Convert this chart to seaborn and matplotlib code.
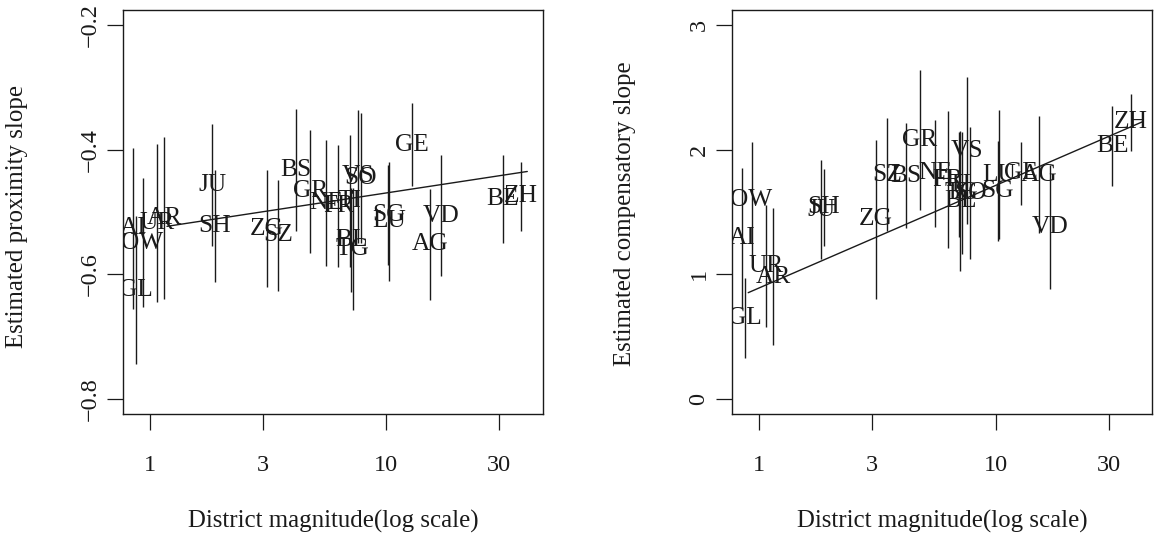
import matplotlib
matplotlib.use("Agg")
import matplotlib.pyplot as plt
import seaborn as sns
import pandas as pd
import numpy as np

# ---- data ----
cantons = ["AI", "GL", "OW", "UR", "AR", "JU", "SH", "ZG", "SZ", "BS", "GR", "NE", "FR",
           "TI", "BL", "TG", "VS", "SO", "SG", "LU", "GE", "AG", "VD", "BE", "ZH"]
magnitude = [0.85, 0.87, 0.93, 1.07, 1.145, 1.83, 1.88, 3.12, 3.48, 4.16, 4.77, 5.55, 6.27,
             7.0, 7.09, 7.2, 7.6, 7.8, 10.2, 10.3, 12.8, 15.3, 17.0, 31.1, 37.2]
prox_est = [-0.526, -0.625, -0.549, -0.518, -0.510, -0.457, -0.522, -0.527, -0.537, -0.433,
            -0.467, -0.485, -0.491, -0.483, -0.545, -0.559, -0.443, -0.445, -0.505, -0.515,
            -0.392, -0.552, -0.506, -0.479, -0.475]
prox_hw = [0.129, 0.118, 0.104, 0.127, 0.130, 0.098, 0.090, 0.094, 0.089, 0.098,
           0.098, 0.101, 0.098, 0.106, 0.084, 0.098, 0.106, 0.104, 0.080, 0.095,
           0.067, 0.089, 0.097, 0.071, 0.056]
comp_est = [1.29, 0.65, 1.60, 1.07, 0.98, 1.52, 1.537, 1.44, 1.80, 1.79, 2.08, 1.81, 1.76,
            1.72, 1.59, 1.65, 1.99, 1.65, 1.67, 1.80, 1.81, 1.80, 1.38, 2.03, 2.22]
comp_hw = [0.565, 0.32, 0.46, 0.49, 0.55, 0.40, 0.31, 0.64, 0.45, 0.42, 0.56, 0.43, 0.55,
           0.42, 0.56, 0.49, 0.59, 0.53, 0.40, 0.52, 0.25, 0.47, 0.50, 0.32, 0.23]
prox_fit_x = [1.18, 39.5]
prox_fit_y = [-0.523, -0.435]
comp_fit_x = [0.90, 42.0]
comp_fit_y = [0.853, 2.226]
xticks = [1, 3, 10, 30]
xtick_labels = ["1", "3", "10", "30"]
prox_yticks = [-0.8, -0.6, -0.4, -0.2]
prox_ytick_labels = ["\u22120.8", "\u22120.6", "\u22120.4", "\u22120.2"]
comp_yticks = [0, 1, 2, 3]
comp_ytick_labels = ["0", "1", "2", "3"]
xlabel = "District magnitude(log scale)"
prox_ylabel = "Estimated proximity slope"
comp_ylabel = "Estimated compensatory slope"

df = pd.DataFrame({"canton": cantons, "mag": magnitude,
                   "prox": prox_est, "prox_hw": prox_hw,
                   "comp": comp_est, "comp_hw": comp_hw})

sns.set_theme(style="white")
plt.rcParams["font.family"] = ["Liberation Serif", "DejaVu Serif"]

W, H = 1155, 535
fig = plt.figure(figsize=(W / 100, H / 100), dpi=100)

def px_axes(x0, x1, y0, y1):
    return fig.add_axes([x0 / W, 1 - y1 / H, (x1 - x0) / W, (y1 - y0) / H])

axL = px_axes(123.3, 542.7, 10, 414)
axR = px_axes(732.3, 1152.3, 10, 414)

LABEL_FS = 18.3
TITLE_FS = 17.9
TICK_FS = 17.5
INK = "#1a1a1a"

def draw(ax, col, hwcol, fx, fy, yticks, ylabs, ylim):
    ax.set_xscale("log")
    ax.vlines(df["mag"], df[col] - df[hwcol], df[col] + df[hwcol],
              color=INK, linewidth=1.0)
    sns.lineplot(x=fx, y=fy, ax=ax, color=INK, linewidth=1.0)
    for _, r in df.iterrows():
        ax.text(r["mag"], r[col], r["canton"], ha="center", va="center",
                fontsize=LABEL_FS, color=INK, clip_on=True)
    ax.set_xlim(0.771, 45.9)
    ax.set_ylim(*ylim)
    ax.set_xticks(xticks)
    ax.set_xticklabels(xtick_labels, fontsize=TICK_FS)
    ax.minorticks_off()
    ax.set_yticks(yticks)
    ax.set_yticklabels(ylabs, fontsize=TICK_FS, rotation=90, va="center")
    ax.tick_params(axis="both", which="major", direction="out", length=11.5,
                   width=0.9, color=INK, labelcolor=INK, bottom=True, left=True)
    ax.tick_params(axis="x", pad=18)
    ax.tick_params(axis="y", pad=5)
    for s in ax.spines.values():
        s.set_color(INK)
        s.set_linewidth(1.0)
        s.set_visible(True)
    ax.set_xlabel("")
    ax.set_ylabel("")

draw(axL, "prox", "prox_hw", prox_fit_x, prox_fit_y, prox_yticks, prox_ytick_labels,
     (-0.824, -0.176))
draw(axR, "comp", "comp_hw", comp_fit_x, comp_fit_y, comp_yticks, comp_ytick_labels,
     (-0.12, 3.12))

fig.text(333 / W, 1 - 521 / H, xlabel, ha="center", va="center", fontsize=TITLE_FS,
         color=INK)
fig.text(942 / W, 1 - 521 / H, xlabel, ha="center", va="center", fontsize=TITLE_FS,
         color=INK)
fig.text(17 / W, 1 - 217 / H, prox_ylabel, ha="center", va="center", rotation=90,
         fontsize=TITLE_FS, color=INK)
fig.text(625 / W, 1 - 214 / H, comp_ylabel, ha="center", va="center", rotation=90,
         fontsize=TITLE_FS, color=INK)

fig.savefig("out.png", dpi=100, facecolor="white")
